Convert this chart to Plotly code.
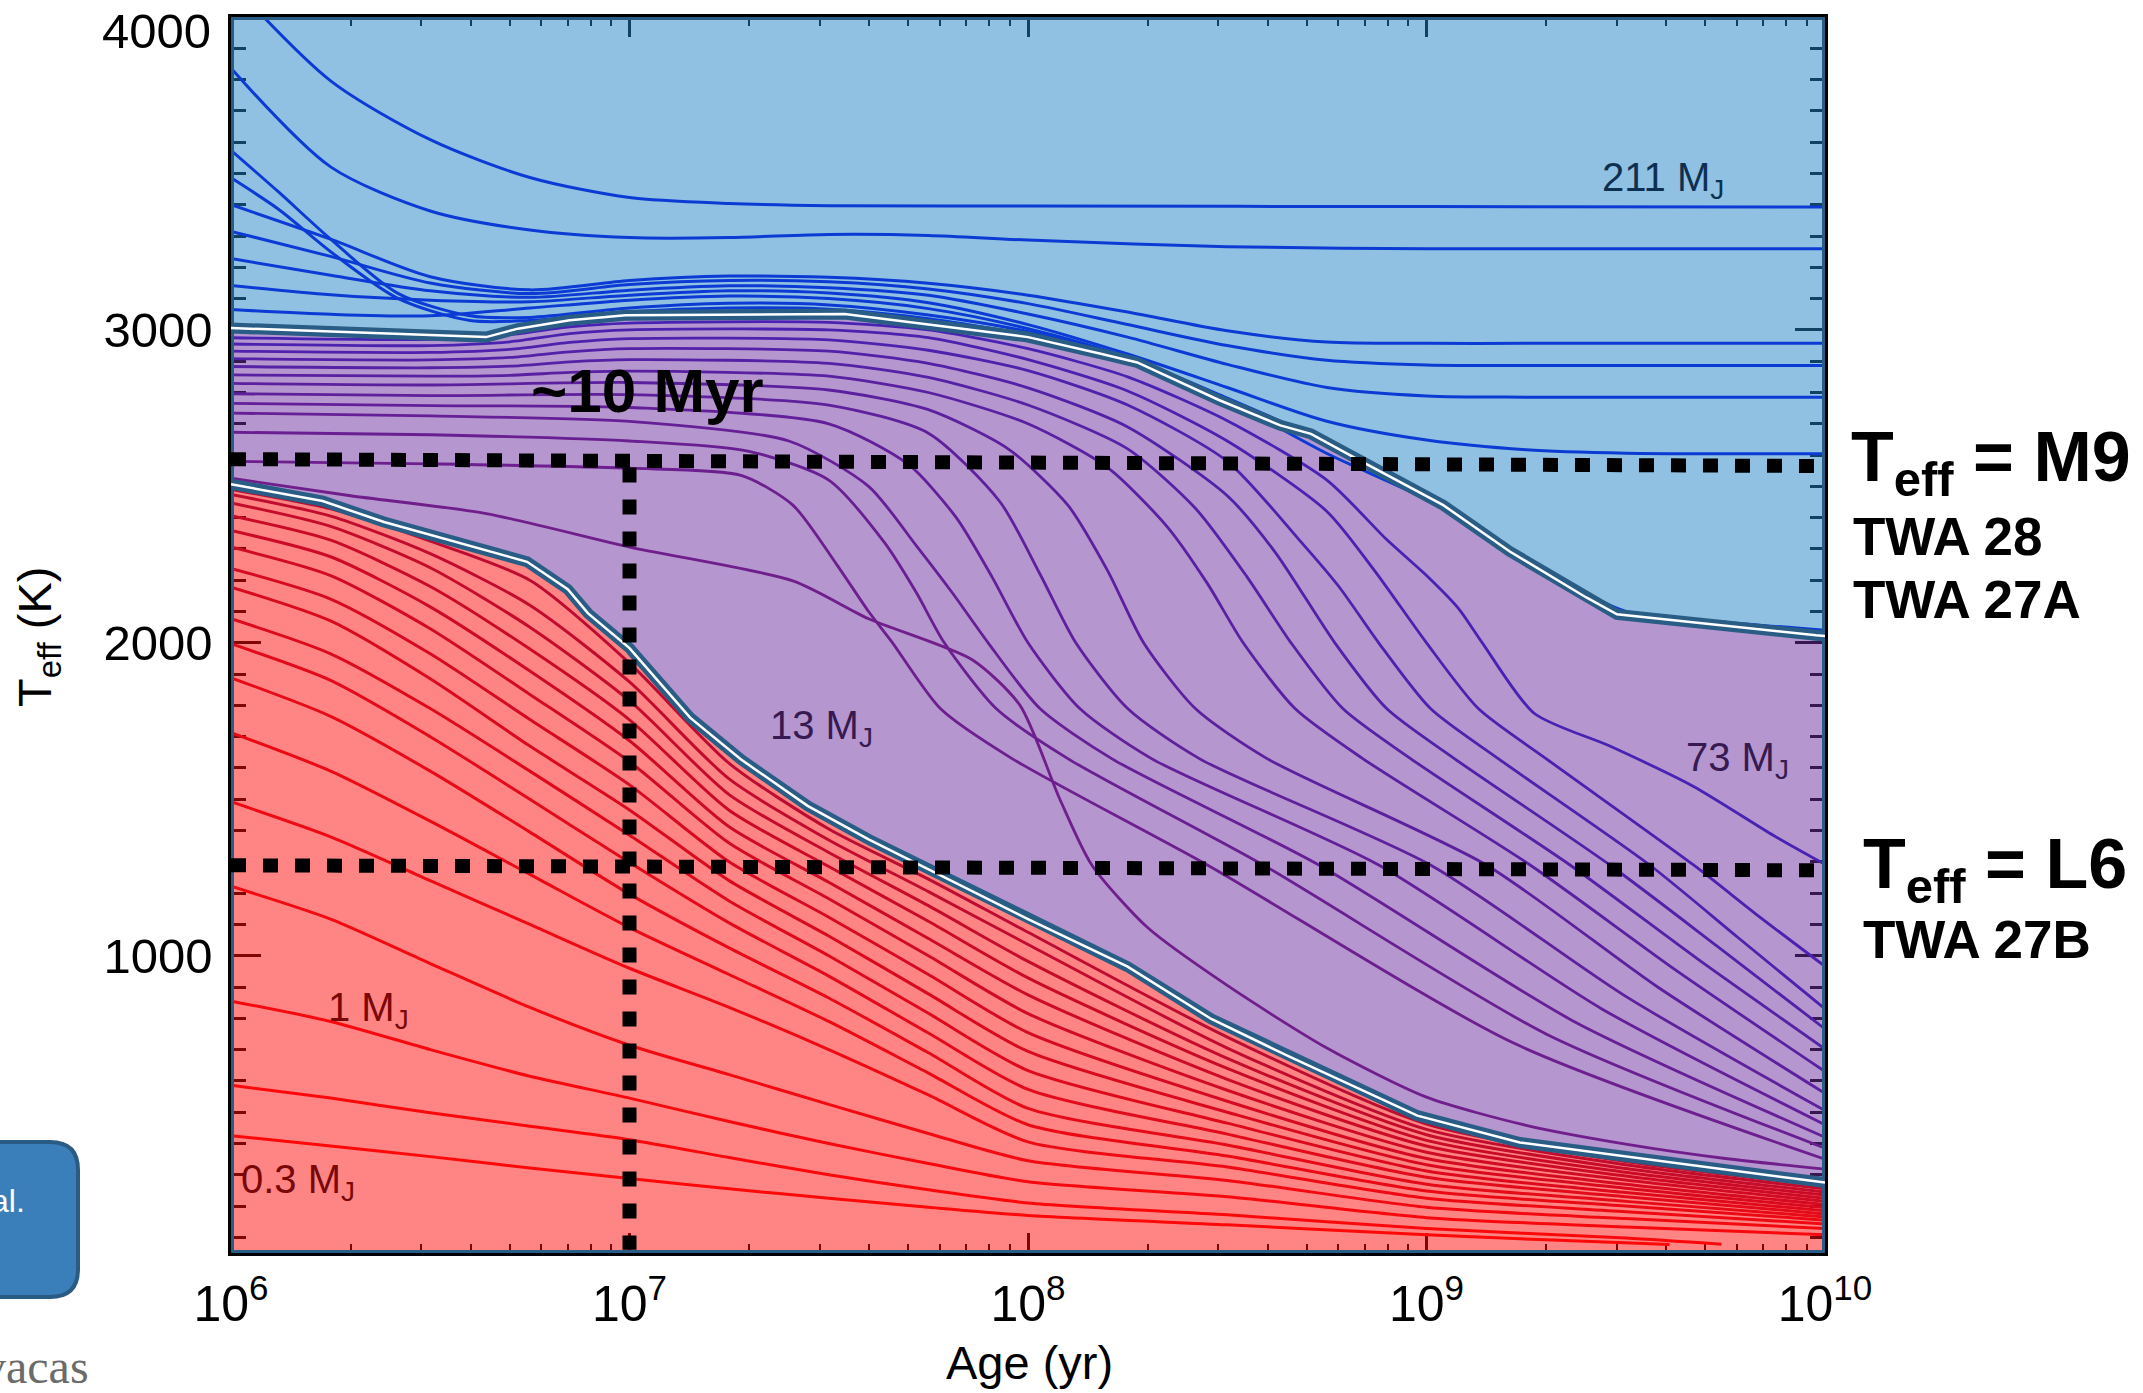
import plotly.graph_objects as go

# ---------------- figure geometry ----------------
W, H = 2143, 1393
ML, MR, MT, MB = 231, 318, 17, 140
PW = W - ML - MR
PH = H - MT - MB


def px(X):
    return (X - ML) / PW


def py(Y):
    return (H - MB - Y) / PH


def ages(logt):
    return [10 ** v for v in logt]


# ---------------- axis data ----------------
age_ticks = [1e6, 1e7, 1e8, 1e9, 1e10]
age_tick_labels = ["10<sup>6</sup>", "10<sup>7</sup>", "10<sup>8</sup>", "10<sup>9</sup>", "10<sup>10</sup>"]
teff_ticks = [1000, 2000, 3000, 4000]
teff_tick_labels = ["1000", "2000", "3000", ""]
top_teff_label = "4000"
TEFF_MIN, TEFF_MAX = 50, 4000

# ---------------- region boundaries (log10 age, Teff) ----------------
star_bd_edge_logt = [6.0, 6.64, 6.72, 6.85, 6.99, 7.54, 7.92, 8.0, 8.185, 8.274, 8.479, 8.633, 8.71,
                     8.825, 9.042, 9.209, 9.401, 9.478, 9.977, 10.0]
star_bd_edge_teff = [3006, 2977, 3004, 3031, 3047, 3051, 2990, 2977, 2923, 2896, 2776, 2695, 2668,
                     2588, 2440, 2292, 2145, 2091, 2024, 2022]
bd_planet_edge_logt = [6.0, 6.23, 6.384, 6.576, 6.743, 6.845, 6.896, 7.0, 7.152, 7.28, 7.447, 7.6,
                       7.79, 8.0, 8.25, 8.46, 8.66, 8.977, 9.234, 10.0]
bd_planet_edge_teff = [2507, 2453, 2386, 2319, 2259, 2171, 2094, 1983, 1761, 1627, 1479, 1372,
                       1251, 1117, 965, 798, 675, 489, 403, 275]

# ---------------- stellar tracks (blue) ----------------
star_211_logt = [6.0, 6.25, 6.5, 6.75, 7.0, 7.25, 7.5, 8.0, 9.0, 10.0]
star_211_teff = [4110, 3796, 3608, 3487, 3423, 3404, 3397, 3396, 3394, 3393]
star_b_logt = [6.0, 6.25, 6.5, 6.75, 7.0, 7.25, 7.5, 7.75, 8.0, 8.5, 9.0, 10.0]
star_b_teff = [3836, 3521, 3380, 3319, 3295, 3295, 3305, 3302, 3287, 3266, 3259, 3259]
star_grid_logt = [6.0, 6.25, 6.5, 6.75, 7.0, 7.25, 7.5, 7.75, 8.0, 8.25, 8.5, 8.75, 9.0, 9.25, 9.5, 9.75, 10.0]
star_c_teff = [3400, 3290, 3170, 3128, 3158, 3172, 3168, 3149, 3111, 3057, 2997, 2961, 2957, 2957, 2957, 2957, 2957]
star_d_teff = [3315, 3235, 3150, 3116, 3145, 3158, 3154, 3131, 3084, 3017, 2950, 2903, 2888, 2886, 2886, 2886, 2886]
star_e_teff = [3228, 3175, 3125, 3104, 3127, 3141, 3135, 3111, 3051, 2977, 2890, 2816, 2789, 2785, 2785, 2785, 2785]
star_f_teff = [3142, 3112, 3095, 3090, 3111, 3125, 3118, 3087, 3017, 2923, 2816, 2708, 2648, 2617, 2606, 2604, 2604]
star_g_teff = [3065, 3050, 3045, 3070, 3095, 3108, 3100, 3068, 3004, 2912, 2775, 2605, 2458, 2270, 2100, 2066, 2040]
star_h_logt = [6.0, 6.12, 6.25, 6.42, 6.6, 6.75, 7.0, 7.25, 7.5, 7.75, 8.0, 8.25, 8.5, 8.75, 9.0, 9.25, 9.5, 9.75, 10.0]
star_h_teff = [3574, 3440, 3290, 3116, 3045, 3040, 3070, 3085, 3080, 3048, 2995, 2912, 2782, 2640, 2468, 2262, 2090, 2055, 2030]
star_i_logt = [6.0, 6.12, 6.25, 6.42, 6.6, 6.75, 7.0, 7.25, 7.5, 7.75, 8.0]
star_i_teff = [3486, 3385, 3250, 3100, 3030, 3030, 3058, 3070, 3066, 3036, 2985]

# ---------------- brown dwarf tracks (purple), top (73 MJ) to bottom ----------------
bd_01_logt = [6.0, 6.5, 6.7, 6.85, 7.0, 7.5, 7.75, 8.0, 8.25, 8.5, 8.75, 8.9, 9.0, 9.08, 9.14, 9.27, 9.46, 9.67, 9.87, 10.0]
bd_01_teff = [2975, 2970, 2985, 3010, 3022, 3024, 3000, 2940, 2850, 2710, 2520, 2330, 2215, 2110, 2000, 1775, 1670, 1541, 1385, 1292]
bd_02_logt = [6.0, 6.5, 6.7, 6.85, 7.0, 7.5, 7.75, 8.0, 8.25, 8.5, 8.75, 8.87, 9.0, 9.13, 9.3, 9.67, 9.83, 10.0]
bd_02_teff = [2955, 2950, 2962, 2988, 3000, 3000, 2975, 2905, 2805, 2645, 2420, 2230, 2000, 1790, 1630, 1290, 1130, 966]
bd_03_logt = [6.0, 6.5, 6.7, 6.85, 7.0, 7.5, 7.75, 8.0, 8.25, 8.5, 8.68, 8.78, 8.88, 9.01, 9.18, 9.56, 9.78, 10.0]
bd_03_teff = [2932, 2928, 2938, 2960, 2972, 2968, 2935, 2870, 2760, 2580, 2330, 2180, 2000, 1790, 1630, 1290, 1060, 830]
bd_04_logt = [6.0, 6.5, 6.7, 6.85, 7.0, 7.5, 7.75, 8.0, 8.25, 8.5, 8.62, 8.77, 8.9, 9.07, 9.46, 9.73, 10.0]
bd_04_teff = [2908, 2904, 2912, 2930, 2940, 2932, 2893, 2815, 2690, 2470, 2290, 2000, 1790, 1630, 1290, 1030, 766]
bd_05_logt = [6.0, 6.5, 6.7, 6.85, 7.0, 7.5, 7.75, 8.0, 8.25, 8.42, 8.55, 8.66, 8.79, 8.96, 9.36, 9.68, 10.0]
bd_05_teff = [2883, 2879, 2884, 2898, 2905, 2893, 2848, 2760, 2620, 2430, 2210, 2000, 1790, 1630, 1290, 990, 702]
bd_06_logt = [6.0, 6.5, 6.7, 6.85, 7.0, 7.5, 7.75, 8.0, 8.2, 8.35, 8.45, 8.54, 8.67, 8.84, 9.26, 9.63, 10.0]
bd_06_teff = [2856, 2852, 2855, 2864, 2868, 2852, 2800, 2700, 2560, 2370, 2190, 2000, 1790, 1630, 1290, 950, 630]
bd_07_logt = [6.0, 6.5, 7.0, 7.5, 7.75, 7.95, 8.1, 8.2, 8.29, 8.42, 8.6, 9.15, 9.58, 10.0]
bd_07_teff = [2829, 2824, 2832, 2808, 2745, 2620, 2440, 2230, 2000, 1790, 1630, 1290, 900, 560]
bd_08_logt = [6.0, 6.5, 7.0, 7.5, 7.75, 7.93, 8.03, 8.12, 8.25, 8.43, 9.01, 9.5, 10.0]
bd_08_teff = [2796, 2790, 2793, 2760, 2670, 2450, 2220, 2000, 1790, 1630, 1290, 870, 505]
bd_09_logt = [6.0, 6.5, 7.0, 7.5, 7.7, 7.82, 7.91, 8.0, 8.13, 8.31, 8.88, 9.44, 10.0]
bd_09_teff = [2765, 2758, 2752, 2700, 2570, 2400, 2210, 2000, 1790, 1630, 1290, 830, 460]
bd_10_logt = [6.0, 6.5, 7.0, 7.4, 7.6, 7.72, 7.81, 7.9, 8.03, 8.21, 8.73, 9.37, 10.0]
bd_10_teff = [2734, 2725, 2708, 2645, 2500, 2310, 2160, 2000, 1790, 1630, 1290, 790, 420]
bd_11_logt = [6.0, 6.5, 7.0, 7.3, 7.5, 7.64, 7.72, 7.79, 7.92, 8.1, 8.59, 9.3, 10.0]
bd_11_teff = [2673, 2665, 2645, 2612, 2520, 2320, 2160, 2000, 1790, 1630, 1290, 750, 385]
bd_12_logt = [6.0, 6.5, 7.0, 7.28, 7.41, 7.52, 7.6, 7.66, 7.78, 7.96, 8.45, 9.22, 10.0]
bd_12_teff = [2580, 2572, 2558, 2535, 2440, 2250, 2100, 2000, 1790, 1630, 1290, 720, 350]
bd_13_logt = [6.0, 6.3, 6.64, 7.0, 7.41, 7.6, 7.86, 7.98, 8.08, 8.16, 8.3, 8.5, 8.75, 9.0, 9.25, 9.5, 9.75, 10.0]
bd_13_teff = [2526, 2470, 2413, 2306, 2198, 2077, 1946, 1800, 1500, 1290, 1090, 905, 705, 548, 458, 398, 352, 318]

# ---------------- planet tracks (red), top (~12 MJ) to bottom (0.3 MJ) ----------------
planet_logt = [6.0, 6.25, 6.5, 6.75, 7.0, 7.25, 7.5, 7.75, 8.0, 8.5, 9.0, 9.5, 10.0]
pl_00_teff = [2490, 2428, 2325, 2200, 1935, 1615, 1405, 1245, 1075, 740, 462, 342, 265]
pl_01_teff = [2474, 2405, 2285, 2120, 1875, 1565, 1370, 1205, 1036, 705, 445, 332, 255]
pl_02_teff = [2447, 2372, 2240, 2050, 1815, 1515, 1330, 1160, 982, 672, 428, 320, 245]
pl_03_teff = [2406, 2328, 2180, 1980, 1754, 1465, 1285, 1110, 929, 640, 410, 308, 235]
pl_04_teff = [2359, 2275, 2115, 1910, 1687, 1412, 1235, 1055, 875, 605, 392, 296, 225]
pl_05_teff = [2306, 2215, 2045, 1835, 1620, 1360, 1182, 1000, 815, 570, 372, 283, 215]
pl_06_teff = [2238, 2140, 1965, 1755, 1546, 1300, 1123, 940, 754, 535, 352, 270, 205]
pl_07_teff = [2178, 2070, 1885, 1670, 1466, 1240, 1063, 878, 694, 500, 332, 257, 195]
pl_08_teff = [2077, 1965, 1790, 1590, 1385, 1175, 1000, 816, 633, 465, 312, 243, 185]
pl_09_teff = [1997, 1880, 1700, 1500, 1298, 1105, 935, 753, 573, 430, 292, 230, 175]
pl_10_teff = [1888, 1765, 1590, 1395, 1197, 1025, 865, 690, 512, 395, 270, 215, 165]
pl_11_teff = [1713, 1590, 1430, 1260, 1090, 940, 790, 625, 460, 360, 248, 200, 155]
pl_12_teff = [1492, 1380, 1240, 1100, 960, 835, 700, 555, 405, 325, 225, 182, 143]
pl_13_teff = [1222, 1117, 975, 835, 714, 620, 525, 432, 345, 282, 196, 160, 128]
pl_14_teff = [855, 790, 700, 615, 545, 470, 400, 336, 278, 230, 163, 133, 108]
pl_15_logt = [6.0, 6.25, 6.5, 6.75, 7.0, 7.25, 7.5, 7.75, 8.0, 8.5, 9.0, 9.5, 9.74]
pl_15_teff = [586, 545, 498, 455, 412, 355, 300, 252, 210, 172, 128, 98, 78]
pl_16_logt = [6.0, 6.25, 6.5, 6.75, 7.0, 7.25, 7.5, 7.75, 8.0, 8.5, 9.0, 9.3, 9.61]
pl_16_teff = [425, 392, 358, 322, 288, 255, 225, 196, 170, 140, 108, 92, 77]

# ---------------- guide lines (dotted) ----------------
m9_line_logt = [6.0, 10.0]
m9_line_teff = [2587, 2565]
l6_line_logt = [6.0, 10.0]
l6_line_teff = [1289, 1273]
age_line_logt = [7.0, 7.0]
age_line_teff = [2560, 60]

# ---------------- styles ----------------
FONT = "Liberation Sans, Arial, Helvetica, sans-serif"
EDGE = "#2a5d86"
BLUE_FILL = "rgba(35,131,197,0.5)"
PURPLE_FILL = "rgba(107,45,157,0.5)"
RED_FILL = "rgba(255,11,11,0.5)"
STAR_LINE = "#0b3bd4"


def lerp(c1, c2, t):
    return "rgb(%d,%d,%d)" % tuple(round(a + (b - a) * t) for a, b in zip(c1, c2))


fig = go.Figure()

sb_x = ages(star_bd_edge_logt)
bp_x = ages(bd_planet_edge_logt)

blue_x = [1e6, 1e10] + sb_x[::-1] + [1e6]
blue_y = [TEFF_MAX, TEFF_MAX] + star_bd_edge_teff[::-1] + [TEFF_MAX]
purple_x = sb_x + bp_x[::-1] + [sb_x[0]]
purple_y = star_bd_edge_teff + bd_planet_edge_teff[::-1] + [star_bd_edge_teff[0]]
red_x = bp_x + [1e10, 1e6, bp_x[0]]
red_y = bd_planet_edge_teff + [TEFF_MIN, TEFF_MIN, bd_planet_edge_teff[0]]

for xs, ys, fc in [(blue_x, blue_y, BLUE_FILL), (purple_x, purple_y, PURPLE_FILL), (red_x, red_y, RED_FILL)]:
    fig.add_trace(go.Scatter(x=xs, y=ys, fill="toself", fillcolor=fc, mode="lines",
                             line=dict(width=0), hoverinfo="skip"))

star_tracks = [
    (star_211_logt, star_211_teff), (star_b_logt, star_b_teff),
    (star_grid_logt, star_c_teff), (star_grid_logt, star_d_teff), (star_grid_logt, star_e_teff),
    (star_grid_logt, star_f_teff), (star_grid_logt, star_g_teff),
    (star_h_logt, star_h_teff), (star_i_logt, star_i_teff),
]
for lt, tv in star_tracks:
    fig.add_trace(go.Scatter(x=ages(lt), y=tv, mode="lines",
                             line=dict(color=STAR_LINE, width=3, shape="spline", smoothing=0.8),
                             hoverinfo="skip"))

bd_tracks = [
    (bd_01_logt, bd_01_teff), (bd_02_logt, bd_02_teff), (bd_03_logt, bd_03_teff),
    (bd_04_logt, bd_04_teff), (bd_05_logt, bd_05_teff), (bd_06_logt, bd_06_teff),
    (bd_07_logt, bd_07_teff), (bd_08_logt, bd_08_teff), (bd_09_logt, bd_09_teff),
    (bd_10_logt, bd_10_teff), (bd_11_logt, bd_11_teff), (bd_12_logt, bd_12_teff),
    (bd_13_logt, bd_13_teff),
]
for i, (lt, tv) in enumerate(bd_tracks):
    col = lerp((72, 34, 178), (112, 30, 140), i / (len(bd_tracks) - 1))
    fig.add_trace(go.Scatter(x=ages(lt), y=tv, mode="lines",
                             line=dict(color=col, width=2.8, shape="spline", smoothing=0.7),
                             hoverinfo="skip"))

planet_tracks = [
    (planet_logt, pl_00_teff), (planet_logt, pl_01_teff), (planet_logt, pl_02_teff),
    (planet_logt, pl_03_teff), (planet_logt, pl_04_teff), (planet_logt, pl_05_teff),
    (planet_logt, pl_06_teff), (planet_logt, pl_07_teff), (planet_logt, pl_08_teff),
    (planet_logt, pl_09_teff), (planet_logt, pl_10_teff), (planet_logt, pl_11_teff),
    (planet_logt, pl_12_teff), (planet_logt, pl_13_teff), (planet_logt, pl_14_teff),
    (pl_15_logt, pl_15_teff), (pl_16_logt, pl_16_teff),
]
for i, (lt, tv) in enumerate(planet_tracks):
    col = lerp((190, 12, 48), (255, 8, 8), i / (len(planet_tracks) - 1))
    fig.add_trace(go.Scatter(x=ages(lt), y=tv, mode="lines",
                             line=dict(color=col, width=3, shape="spline", smoothing=0.7),
                             hoverinfo="skip"))

for xs, ys in [(blue_x, blue_y), (purple_x, purple_y), (red_x, red_y)]:
    fig.add_trace(go.Scatter(x=xs, y=ys, mode="lines", line=dict(color=EDGE, width=6),
                             hoverinfo="skip"))
for xs, ys in [(sb_x, star_bd_edge_teff), (bp_x, bd_planet_edge_teff)]:
    fig.add_trace(go.Scatter(x=xs, y=ys, mode="lines", line=dict(color=EDGE, width=11),
                             hoverinfo="skip"))
    fig.add_trace(go.Scatter(x=xs, y=ys, mode="lines", line=dict(color="white", width=2.5),
                             hoverinfo="skip"))

for lt, tv in [(m9_line_logt, m9_line_teff), (l6_line_logt, l6_line_teff), (age_line_logt, age_line_teff)]:
    fig.add_trace(go.Scatter(x=ages(lt), y=tv, mode="lines",
                             line=dict(color="black", width=14, dash="15px,17px"),
                             hoverinfo="skip"))

# ---------------- annotations ----------------
ann = []


def add_text(text, X, Y, size, color="black", xanchor="left", family=FONT, angle=0):
    ann.append(dict(text=text, x=px(X), y=py(Y), xref="paper", yref="paper",
                    xanchor=xanchor, yanchor="middle", showarrow=False, textangle=angle,
                    font=dict(family=family, size=size, color=color)))


add_text(top_teff_label, 213, 31, 49, xanchor="right")
add_text("211 M<sub>J</sub>", 1600, 180, 40, "#0d3050")
add_text("13 M<sub>J</sub>", 768, 728, 40, "#371a52")
add_text("73 M<sub>J</sub>", 1684, 760, 40, "#371a52")
add_text("1 M<sub>J</sub>", 326, 1010, 40, "#7a0808")
add_text("0.3 M<sub>J</sub>", 239, 1182, 40, "#7a0808")
add_text("<b>~10 Myr</b>", 647, 390, 62, xanchor="center")
add_text("<b>T<sub>eff</sub> = M9</b>", 1849, 462, 70)
add_text("<b>TWA 28</b>", 1851, 536, 53)
add_text("<b>TWA 27A</b>", 1851, 599, 53)
add_text("<b>T<sub>eff</sub> = L6</b>", 1861, 869, 70)
add_text("<b>TWA 27B</b>", 1861, 940, 53)
add_text("Age (yr)", 1029, 1362, 47, xanchor="center")
add_text("T<sub>eff</sub> (K)", 38, 637, 47, xanchor="center", angle=-90)
add_text("al.", 27, 1201, 32, "white", xanchor="right")
add_text("vacas", 91, 1366, 48, "#6b6b6b", xanchor="right", family="Liberation Serif, Times New Roman, serif")

xl, xr = px(-40), px(78)
yt, yb = py(1142), py(1297)
rx, ry = 28 / PW, 28 / PH
box_path = (f"M {xl},{yt} L {xr - rx},{yt} Q {xr},{yt} {xr},{yt - ry} "
            f"L {xr},{yb + ry} Q {xr},{yb} {xr - rx},{yb} L {xl},{yb} Z")

minor_age = [m * 10 ** e for e in range(6, 10) for m in range(2, 10)]

fig.update_layout(
    width=W, height=H,
    margin=dict(l=ML, r=MR, t=MT, b=MB, pad=0, autoexpand=False),
    paper_bgcolor="white", plot_bgcolor="white",
    showlegend=False, hovermode=False,
    annotations=ann,
    shapes=[dict(type="path", path=box_path, xref="paper", yref="paper",
                 fillcolor="#3b7fba", line=dict(color="#2a5b85", width=4), layer="above")],
    xaxis=dict(type="log", range=[6, 10], tickvals=age_ticks, ticktext=age_tick_labels,
               ticks="inside", ticklen=20, tickwidth=2.5, tickcolor="black",
               minor=dict(tickvals=minor_age, ticks="inside", ticklen=9, tickwidth=2, tickcolor="black"),
               showline=True, linecolor="black", linewidth=2.5, mirror="allticks",
               showgrid=False, zeroline=False, layer="below traces", automargin=False,
               tickfont=dict(family=FONT, size=50, color="black"), ticklabelstandoff=5),
    yaxis=dict(range=[TEFF_MIN, TEFF_MAX], tickvals=teff_ticks, ticktext=teff_tick_labels,
               ticks="inside", ticklen=30, tickwidth=2.5, tickcolor="black",
               minor=dict(dtick=100, tick0=0, ticks="inside", ticklen=15, tickwidth=2.5, tickcolor="black"),
               showline=True, linecolor="black", linewidth=2.5, mirror="allticks",
               showgrid=False, zeroline=False, layer="below traces", automargin=False,
               tickfont=dict(family=FONT, size=49, color="black"), ticklabelstandoff=6),
)

fig.write_html("out.html", config=dict(displayModeBar=False),
               post_script="document.body.style.margin='0';document.body.style.overflow='hidden';")
